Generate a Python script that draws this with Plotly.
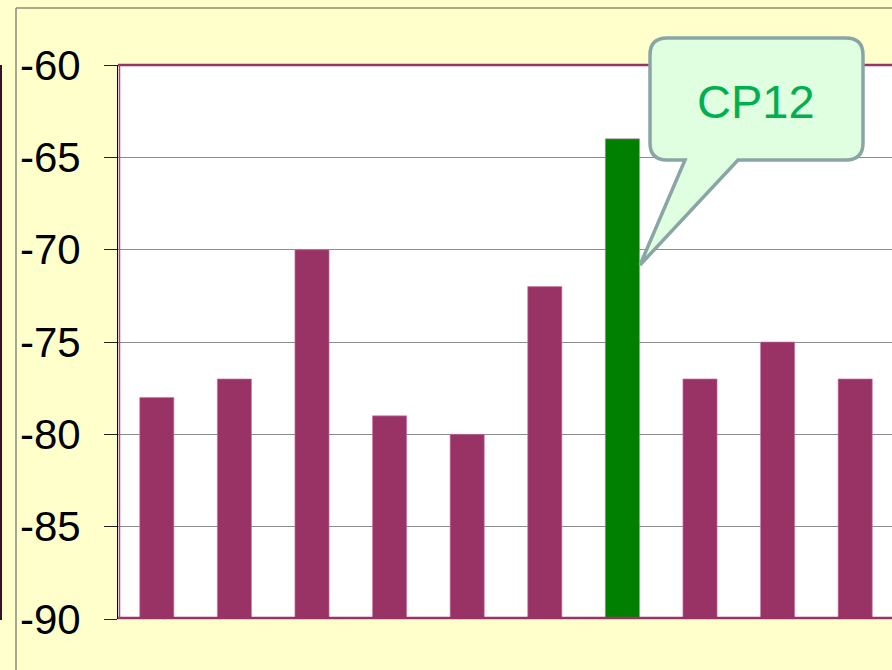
import plotly.graph_objects as go

categories = ["1", "2", "3", "4", "5", "6", "CP12", "8", "9", "10"]
values = [-78, -77, -70, -79, -80, -72, -64, -77, -75, -77]
highlight = "CP12"
base_value = -90
tick_vals = [-60, -65, -70, -75, -80, -85, -90]
tick_text = ["-60", "-65", "-70", "-75", "-80", "-85", "-90"]

W, H = 892, 670
L, R, T, B = 118, 0, 65, 51
PW, PH = W - L - R, H - T - B


def px(x):
    return (x - L) / PW


def py(y):
    return (H - B - y) / PH


colors = ["#008000" if c == highlight else "#993366" for c in categories]

fig = go.Figure()
fig.add_trace(go.Bar(
    x=list(range(len(categories))),
    y=[v - base_value for v in values],
    base=base_value,
    marker=dict(color=colors, line=dict(color="rgba(200,120,170,0.6)", width=1)),
    width=0.44,
    hoverinfo="skip",
))

# callout path (rounded box with tail)
bx0, bx1, by0, by1, r = 650, 863, 38, 160, 17
tail_l, tail_r, tip = 685, 738, (640, 265)
pts = [
    ("M", [(bx0 + r, by0)]),
    ("L", [(bx1 - r, by0)]),
    ("Q", [(bx1, by0), (bx1, by0 + r)]),
    ("L", [(bx1, by1 - r)]),
    ("Q", [(bx1, by1), (bx1 - r, by1)]),
    ("L", [(tail_r, by1)]),
    ("L", [tip]),
    ("L", [(tail_l, by1)]),
    ("L", [(bx0 + r, by1)]),
    ("Q", [(bx0, by1), (bx0, by1 - r)]),
    ("L", [(bx0, by0 + r)]),
    ("Q", [(bx0, by0), (bx0 + r, by0)]),
]
path = " ".join(cmd + " " + " ".join(f"{px(a):.5f},{py(b):.5f}" for a, b in p) for cmd, p in pts) + " Z"

shapes = [
    # outer frame lines
    dict(type="line", xref="paper", yref="paper", x0=px(16), x1=px(16), y0=py(8), y1=py(H + 5),
         line=dict(color="#A8A890", width=2), layer="above"),
    dict(type="line", xref="paper", yref="paper", x0=px(16), x1=px(W + 5), y0=py(8), y1=py(8),
         line=dict(color="#8C8C78", width=1.5), layer="above"),
    dict(type="rect", xref="paper", yref="paper", x0=px(-2), x1=px(2), y0=py(65), y1=py(620),
         fillcolor="#3A1028", line=dict(width=0), layer="above"),
    # plot border
    dict(type="line", xref="paper", yref="paper", x0=px(118), x1=px(W + 5), y0=1, y1=1,
         line=dict(color="#993366", width=2.5), layer="above"),
    dict(type="line", xref="paper", yref="paper", x0=px(118), x1=px(W + 5), y0=py(618), y1=py(618),
         line=dict(color="#993366", width=2.5), layer="above"),
    dict(type="line", xref="paper", yref="paper", x0=px(119.5), x1=px(119.5), y0=0, y1=1,
         line=dict(color="#B04080", width=1.5), layer="above"),
    dict(type="path", xref="paper", yref="paper", path=path,
         fillcolor="#E0FFE0", line=dict(color="#8AA5A5", width=3.5), layer="above"),
]

fig.add_annotation(
    xref="paper", yref="paper", x=px(756), y=py(101), text="CP12", showarrow=False,
    xanchor="center", yanchor="middle",
    font=dict(family="Liberation Sans, Arial", size=47, color="#00B050"),
)

fig.update_layout(
    width=W, height=H,
    margin=dict(l=L, r=R, t=T, b=B, pad=0),
    paper_bgcolor="#FFFFCC",
    plot_bgcolor="#FFFFFF",
    showlegend=False,
    shapes=shapes,
    bargap=0.56,
    xaxis=dict(range=[-0.5, -0.5 + PW / 77.6], showticklabels=False, showgrid=False,
               zeroline=False, ticks="", fixedrange=True),
    yaxis=dict(range=[-90, -60], tickvals=tick_vals, ticktext=tick_text,
               showgrid=True, gridcolor="#8C8C8C", gridwidth=1, zeroline=False,
               showline=True, linecolor="#000000", linewidth=1,
               ticks="outside", ticklen=13, tickcolor="#222222", tickwidth=1,
               ticklabelstandoff=15, fixedrange=True,
               tickfont=dict(family="Liberation Sans, Arial", size=42, color="#000000")),
)

fig.write_html(
    "out.html",
    config={"displayModeBar": False},
    post_script="document.body.style.margin='0px';document.body.style.background='#FFFFCC';",
)
